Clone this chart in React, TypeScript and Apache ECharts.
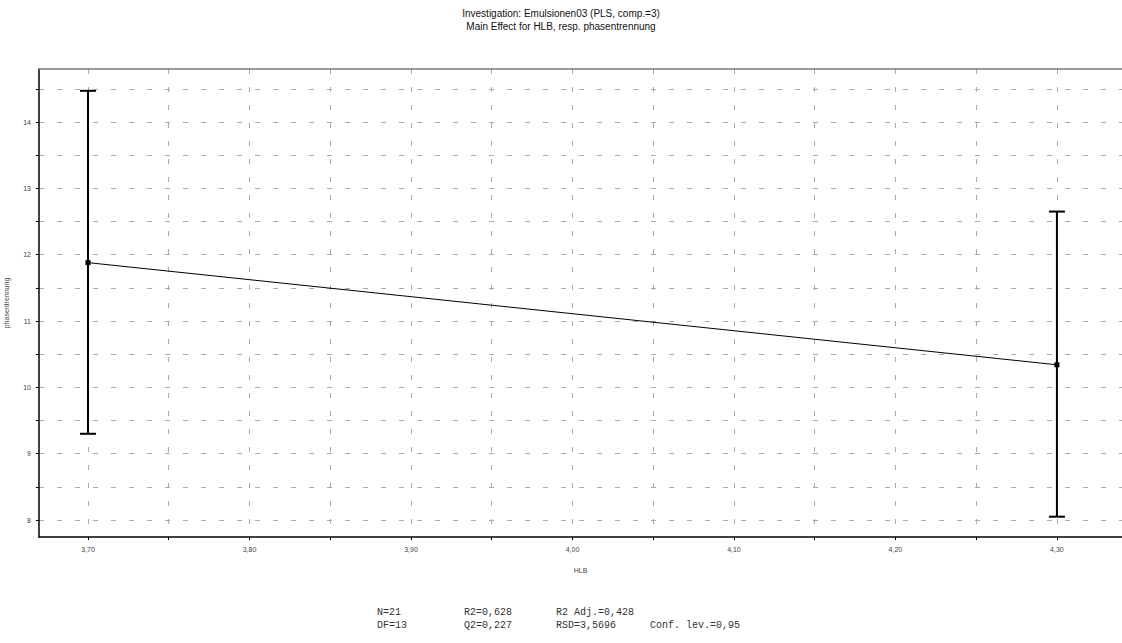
import React, { useEffect, useRef } from "react";
import * as echarts from "echarts";

const titleLines = [
  "Investigation: Emulsionen03 (PLS, comp.=3)",
  "Main Effect for HLB, resp. phasentrennung",
];
const xName = "HLB";
const yName = "phasentrennung";
const hlb = [3.7, 4.3];
const effect = [11.88, 10.34];
const lower = [9.3, 8.05];
const upper = [14.47, 12.65];
const xTicks = [3.7, 3.75, 3.8, 3.85, 3.9, 3.95, 4.0, 4.05, 4.1, 4.15, 4.2, 4.25, 4.3];
const xLabels = [3.7, 3.8, 3.9, 4.0, 4.1, 4.2, 4.3];
const yTicks = [8, 8.5, 9, 9.5, 10, 10.5, 11, 11.5, 12, 12.5, 13, 13.5, 14, 14.5];
const yLabels = [8, 9, 10, 11, 12, 13, 14];
const statsRow1 = ["N=21", "R2=0,628", "R2 Adj.=0,428", ""];
const statsRow2 = ["DF=13", "Q2=0,227", "RSD=3,5696", "Conf. lev.=0,95"];

export default function App() {
  const ref = useRef<HTMLDivElement>(null);
  useEffect(() => {
    if (!ref.current) return;
    const chart = echarts.init(ref.current, undefined, { renderer: "svg" });
    const colX = [377, 464, 556, 650];
    const statsGraphics: any[] = [];
    [statsRow1, statsRow2].forEach((row, r) => {
      row.forEach((t, c) => {
        if (!t) return;
        statsGraphics.push({
          type: "text",
          x: colX[c],
          y: 612 + r * 13,
          style: {
            text: t,
            font: "10px 'Liberation Mono', 'Courier New', monospace",
            fill: "#333",
            textVerticalAlign: "middle",
          },
        });
      });
    });
    const gridLine = { show: true, lineStyle: { color: "#aaa", type: [5, 13], width: 1 } };
    chart.setOption({
      animation: false,
      backgroundColor: "#fff",
      textStyle: { fontFamily: "'Liberation Sans', Arial, sans-serif" },
      graphic: [
        ...titleLines.map((t, i) => ({
          type: "text",
          x: 561,
          y: 13 + i * 13,
          style: {
            text: t,
            font: "10px 'Liberation Sans', Arial, sans-serif",
            fill: "#111",
            textAlign: "center",
            textVerticalAlign: "middle",
          },
        })),
        {
          type: "line",
          shape: { x1: 39, y1: 69, x2: 1122, y2: 69 },
          style: { stroke: "#777", lineWidth: 1.5 },
          z: 10,
        },
        ...statsGraphics,
      ],
      grid: {
        left: 39,
        top: 69,
        right: 0,
        bottom: 106,
        show: false,
        containLabel: false,
        outerBoundsMode: "none",
      },
      xAxis: {
        type: "value",
        min: 3.66966,
        max: 4.3403,
        name: xName,
        nameLocation: "middle",
        nameGap: 30,
        nameTextStyle: { fontSize: 7, color: "#444" },
        axisLine: { show: true, lineStyle: { color: "#000", width: 1.5 } },
        axisTick: { show: true, customValues: xTicks, length: 3, lineStyle: { color: "#000" } },
        axisLabel: {
          customValues: xLabels,
          fontSize: 7,
          color: "#444",
          margin: 9,
          formatter: (v: number) => v.toFixed(2).replace(".", ","),
        },
        splitLine: gridLine,
      },
      yAxis: {
        type: "value",
        min: 7.744,
        max: 14.799,
        name: yName,
        nameLocation: "middle",
        nameGap: 29,
        nameTextStyle: { fontSize: 7, color: "#444" },
        axisLine: { show: true, lineStyle: { color: "#000", width: 1.5 } },
        axisTick: { show: true, customValues: yTicks, length: 3, lineStyle: { color: "#000" } },
        axisLabel: { customValues: yLabels, fontSize: 7, color: "#444", margin: 8 },
        splitLine: gridLine,
      },
      series: [
        {
          type: "line",
          data: hlb.map((x, i) => [x, effect[i]]),
          symbol: "rect",
          symbolSize: 5,
          itemStyle: { color: "#000" },
          lineStyle: { color: "#000", width: 1 },
          z: 5,
        },
        {
          type: "custom",
          data: hlb.map((x, i) => [x, lower[i], upper[i]]),
          renderItem: (params: any, api: any) => {
            const lo = api.coord([api.value(0), api.value(1)]);
            const hi = api.coord([api.value(0), api.value(2)]);
            const w = 8;
            const style = { stroke: "#000", lineWidth: 2 };
            return {
              type: "group",
              children: [
                { type: "line", shape: { x1: lo[0], y1: lo[1], x2: hi[0], y2: hi[1] }, style },
                { type: "line", shape: { x1: hi[0] - w, y1: hi[1], x2: hi[0] + w, y2: hi[1] }, style },
                { type: "line", shape: { x1: lo[0] - w, y1: lo[1], x2: lo[0] + w, y2: lo[1] }, style },
              ],
            };
          },
          z: 4,
        },
      ],
    });
    return () => chart.dispose();
  }, []);
  return (
    <div
      ref={ref}
      style={{ position: "fixed", left: 0, top: 0, width: 1122, height: 643 }}
    />
  );
}
